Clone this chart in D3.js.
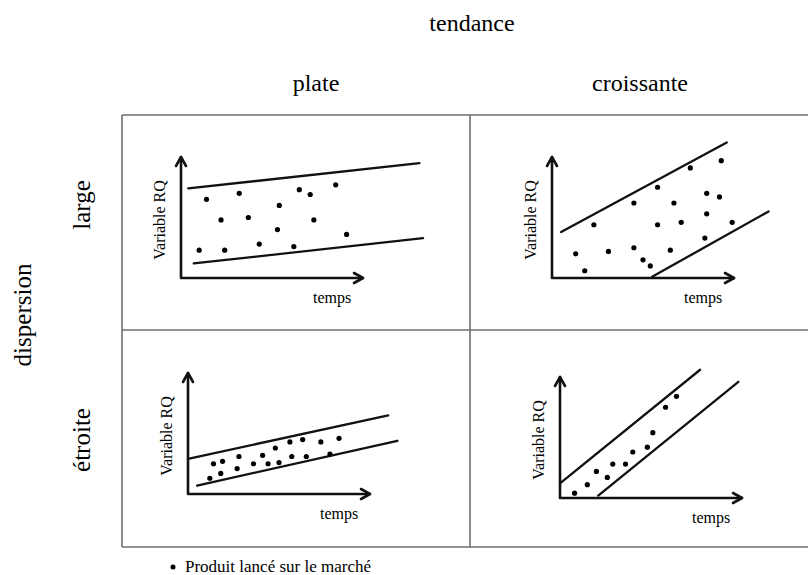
<!DOCTYPE html>
<html lang="fr">
<head>
<meta charset="UTF-8">
<title>tendance / dispersion</title>
<script src="https://cdn.jsdelivr.net/npm/d3@7"></script>
<style>
    body { margin: 0; background: #fff; }
    svg text { font-family: "Liberation Serif", "Times New Roman", Times, serif; fill: #000; }
</style>
</head>
<body>
<div id="chart"></div>
<script>
    // categories
    var columns = ["plate", "croissante"];
    var rows = ["large", "étroite"];
    var colTitle = "tendance";
    var rowTitle = "dispersion";
    var xLabel = "temps";
    var yLabel = "Variable RQ";
    var legendLabel = "Produit lancé sur le marché";

    // points (x = temps, y = variable RQ), axis scale 0..100
    var dotsPlateLarge = [
        [14, 65], [32, 70], [65, 73], [71, 69], [85, 77], [54, 60], [22, 48], [37, 50],
        [73, 48], [53, 40], [91, 36], [10, 23], [24, 23], [43, 28], [62, 26]
    ];
    var dotsCroissLarge = [
        [13, 20], [18, 6], [23, 44], [31, 22], [45, 62], [45, 25], [50, 15], [54, 10],
        [58, 75], [58, 44], [65, 23], [67, 62], [71, 46], [76, 91], [84, 33], [85, 70],
        [85, 53], [92, 67], [93, 97], [99, 46]
    ];
    var dotsPlateEtroite = [
        [12, 13], [14, 25], [19, 27], [18, 17], [27, 21], [28, 31], [36, 25], [41, 32],
        [44, 25], [48, 38], [50, 26], [56, 43], [57, 31], [63, 45], [65, 31], [73, 43],
        [78, 33], [83, 46]
    ];
    var dotsCroissEtroite = [
        [8, 4], [15, 11], [20, 22], [26, 17], [29, 28], [36, 28], [40, 38], [48, 42],
        [51, 54], [58, 75], [64, 84]
    ];

    // band limits [x1, y1, x2, y2]
    var bandPlateLarge = [[4, 74, 131, 95], [7, 12, 133, 33]];
    var bandCroissLarge = [[5, 38, 96, 112], [55, 1, 119, 55]];
    var bandPlateEtroite = [[0, 29, 110, 65], [5, 7, 115, 44]];
    var bandCroissEtroite = [[0, 12, 77, 106], [21, 2, 98, 96]];

    var width = 808, height = 575;
    var svg = d3.select("#chart").append("svg")
        .attr("width", width)
        .attr("height", height);

    // grid frame
    var gLeft = 122, gTop = 115, gRight = 808, gBottom = 547, midX = 470, midY = 330;
    var frame = svg.append("g")
        .attr("stroke", "#6e6e6e")
        .attr("stroke-width", 1.6);
    [[gLeft, gTop, gRight, gTop], [gLeft, midY, gRight, midY], [gLeft, gBottom, gRight, gBottom],
     [gLeft, gTop, gLeft, gBottom], [midX, gTop, midX, gBottom]].forEach(function (l) {
        frame.append("line")
            .attr("x1", l[0]).attr("y1", l[1])
            .attr("x2", l[2]).attr("y2", l[3]);
    });

    // titles
    svg.append("text")
        .attr("x", 472).attr("y", 31)
        .attr("text-anchor", "middle")
        .style("font-size", "24px")
        .text(colTitle);

    var colX = { "plate": 316, "croissante": 640 };
    svg.selectAll(".col-label")
        .data(columns)
        .enter().append("text")
        .attr("class", "col-label")
        .attr("x", function (d) { return colX[d]; })
        .attr("y", 91)
        .attr("text-anchor", "middle")
        .style("font-size", "24px")
        .text(function (d) { return d; });

    var rowY = { "large": 205, "étroite": 440 };
    svg.selectAll(".row-label")
        .data(rows)
        .enter().append("text")
        .attr("class", "row-label")
        .attr("transform", function (d) { return "translate(90," + rowY[d] + ") rotate(-90)"; })
        .attr("text-anchor", "middle")
        .style("font-size", "25px")
        .text(function (d) { return d; });

    svg.append("text")
        .attr("transform", "translate(31,315) rotate(-90)")
        .attr("text-anchor", "middle")
        .style("font-size", "25px")
        .text(rowTitle);

    // panels
    var panels = [
        { dots: dotsPlateLarge, band: bandPlateLarge, ox: 181, oy: 278 },
        { dots: dotsCroissLarge, band: bandCroissLarge, ox: 552, oy: 278 },
        { dots: dotsPlateEtroite, band: bandPlateEtroite, ox: 188, oy: 494 },
        { dots: dotsCroissEtroite, band: bandCroissEtroite, ox: 560, oy: 498 }
    ];

    var x = d3.scaleLinear().domain([0, 100]).range([0, 182]);
    var y = d3.scaleLinear().domain([0, 100]).range([0, -121]);

    panels.forEach(function (p) {
        var g = svg.append("g").attr("transform", "translate(" + p.ox + "," + p.oy + ")");

        // axes with open arrow heads
        var axes = g.append("g")
            .attr("fill", "none")
            .attr("stroke", "#111")
            .attr("stroke-width", 2.6)
            .attr("stroke-linecap", "round")
            .attr("stroke-linejoin", "round");
        axes.append("path")
            .attr("d", "M0," + y(100) + "V0H" + x(100));
        axes.append("path")
            .attr("d", "M-5," + (y(100) + 9) + "L0," + y(100) + "L5," + (y(100) + 9));
        axes.append("path")
            .attr("d", "M" + (x(100) - 9) + ",-5L" + x(100) + ",0L" + (x(100) - 9) + ",5");

        g.selectAll(".band")
            .data(p.band)
            .enter().append("line")
            .attr("class", "band")
            .attr("x1", function (d) { return x(d[0]); })
            .attr("y1", function (d) { return y(d[1]); })
            .attr("x2", function (d) { return x(d[2]); })
            .attr("y2", function (d) { return y(d[3]); })
            .attr("stroke", "#111")
            .attr("stroke-width", 2.3)
            .attr("stroke-linecap", "round");

        g.selectAll(".dot")
            .data(p.dots)
            .enter().append("circle")
            .attr("class", "dot")
            .attr("cx", function (d) { return x(d[0]); })
            .attr("cy", function (d) { return y(d[1]); })
            .attr("r", 2.6)
            .attr("fill", "#000");

        g.append("text")
            .attr("x", x(83)).attr("y", 25)
            .attr("text-anchor", "middle")
            .style("font-size", "16px")
            .text(xLabel);

        g.append("text")
            .attr("transform", "translate(-16," + y(48) + ") rotate(-90)")
            .attr("text-anchor", "middle")
            .style("font-size", "16px")
            .text(yLabel);
    });

    // legend
    svg.append("circle")
        .attr("cx", 173).attr("cy", 567)
        .attr("r", 2.5)
        .attr("fill", "#000");
    svg.append("text")
        .attr("x", 185).attr("y", 572)
        .style("font-size", "17px")
        .text(legendLabel);
</script>
</body>
</html>
